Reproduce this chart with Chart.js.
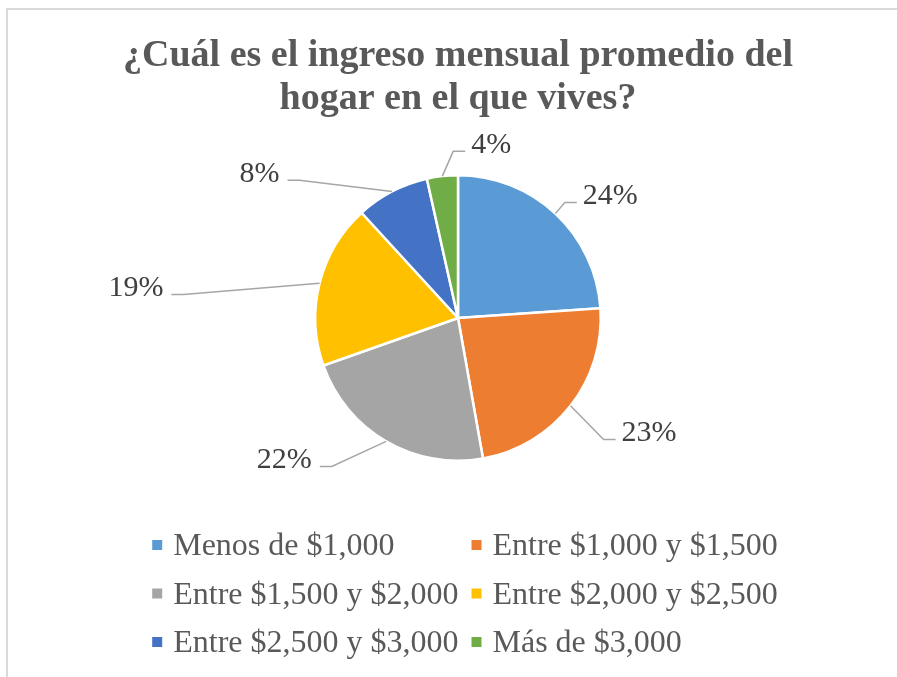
<!DOCTYPE html>
<html>
<head>
<meta charset="utf-8">
<script src="https://cdn.jsdelivr.net/npm/chart.js@4/dist/chart.umd.min.js"></script>
<style>
html,body{margin:0;padding:0;background:#fff;}
#wrap{width:897px;height:677px;position:relative;}
</style>
</head>
<body>
<div id="wrap"><canvas id="pie"></canvas></div>
<script>
// data
const categories=['Menos de $1,000','Entre $1,000 y $1,500','Entre $1,500 y $2,000','Entre $2,000 y $2,500','Entre $2,500 y $3,000','Más de $3,000'];
const shares=[23.9,23.3,22.4,18.6,8.3,3.5];
const sliceColors=['#5B9BD5','#ED7D31','#A5A5A5','#FFC000','#4472C4','#70AD47'];
const titleLines=['¿Cuál es el ingreso mensual promedio del','hogar en el que vives?'];

// where each percent label sits: angle shift (deg, clockwise) from slice middle, distance past the rim
const labelShift=[7.7,-7.5,21,-8.3,-26,17];
const labelPush=[54,79,80,181,104,36];

const serif='"Liberation Serif","Times New Roman",serif';

const frame={
id:'frame',
beforeDraw(c){
const ctx=c.ctx;
ctx.save();
ctx.strokeStyle='#D9D9D9';
ctx.lineWidth=2;
ctx.beginPath();
ctx.moveTo(7,c.height+5);
ctx.lineTo(7,9);
ctx.lineTo(c.width+5,9);
ctx.stroke();
ctx.restore();
}
};

const pctLabels={
id:'pctLabels',
afterDatasetsDraw(c){
const ctx=c.ctx;
const arcs=c.getDatasetMeta(0).data;
const vals=c.data.datasets[0].data;
const total=vals.reduce((a,b)=>a+b,0);
ctx.save();
ctx.font='30px '+serif;
ctx.textBaseline='middle';
ctx.textAlign='center';
arcs.forEach((arc,i)=>{
const p=arc.getProps(['x','y','startAngle','endAngle','outerRadius'],true);
const mid=(p.startAngle+p.endAngle)/2;
const ex=p.x+Math.cos(mid)*p.outerRadius, ey=p.y+Math.sin(mid)*p.outerRadius;
const la=mid+labelShift[i]*Math.PI/180, dist=p.outerRadius+labelPush[i];
const lx=p.x+Math.cos(la)*dist, ly=p.y+Math.sin(la)*dist;
const txt=Math.round(vals[i]/total*100)+'%';
const w=ctx.measureText(txt).width;
let xEnd,elbow;
if(lx>p.x){xEnd=lx-w/2-6;elbow=xEnd-12;}else{xEnd=lx+w/2+8;elbow=xEnd+12;}
const yl=ly+9;
ctx.strokeStyle='#A6A6A6';
ctx.lineWidth=1.5;
ctx.beginPath();
ctx.moveTo(ex,ey);
ctx.lineTo(elbow,yl);
ctx.lineTo(xEnd,yl);
ctx.stroke();
ctx.fillStyle='#404040';
ctx.fillText(txt,lx,ly+2.5);
});
ctx.restore();
}
};

const gridLegend={
id:'gridLegend',
afterDraw(c){
const ctx=c.ctx;
const area=c.chartArea;
const labels=c.data.labels;
const cols=c.data.datasets[0].backgroundColor;
ctx.save();
ctx.font='32px '+serif;
ctx.textBaseline='middle';
ctx.textAlign='left';
let maxW=0;
labels.forEach(l=>{maxW=Math.max(maxW,ctx.measureText(l).width);});
const box=10, toText=21, colGap=13;
const colW=toText+maxW+colGap;
const totalW=colW*2-colGap;
const cx=(area.left+area.right)/2+7;
const x0=cx-totalW/2;
const y0=area.bottom+85, rowH=48.5;
labels.forEach((l,i)=>{
const x=x0+(i%2)*colW, y=y0+Math.floor(i/2)*rowH;
ctx.fillStyle=cols[i];
ctx.fillRect(x,y-box/2-2,box,box);
ctx.fillStyle='#595959';
ctx.fillText(l,x+toText,y);
});
ctx.restore();
}
};

new Chart(document.getElementById('pie'),{
type:'pie',
data:{
labels:categories,
datasets:[{data:shares,backgroundColor:sliceColors,borderColor:'#fff',borderWidth:2.5,hoverOffset:0}]
},
options:{
responsive:true,
maintainAspectRatio:false,
animation:false,
layout:{padding:{left:19,right:0,top:0,bottom:215}},
plugins:{
legend:{display:false},
tooltip:{enabled:false},
title:{
display:true,
text:titleLines,
color:'#595959',
font:{family:serif,size:38,weight:'bold',lineHeight:43/38},
padding:{top:34.5,bottom:53.5}
}
}
},
plugins:[frame,pctLabels,gridLegend]
});
</script>
</body>
</html>
